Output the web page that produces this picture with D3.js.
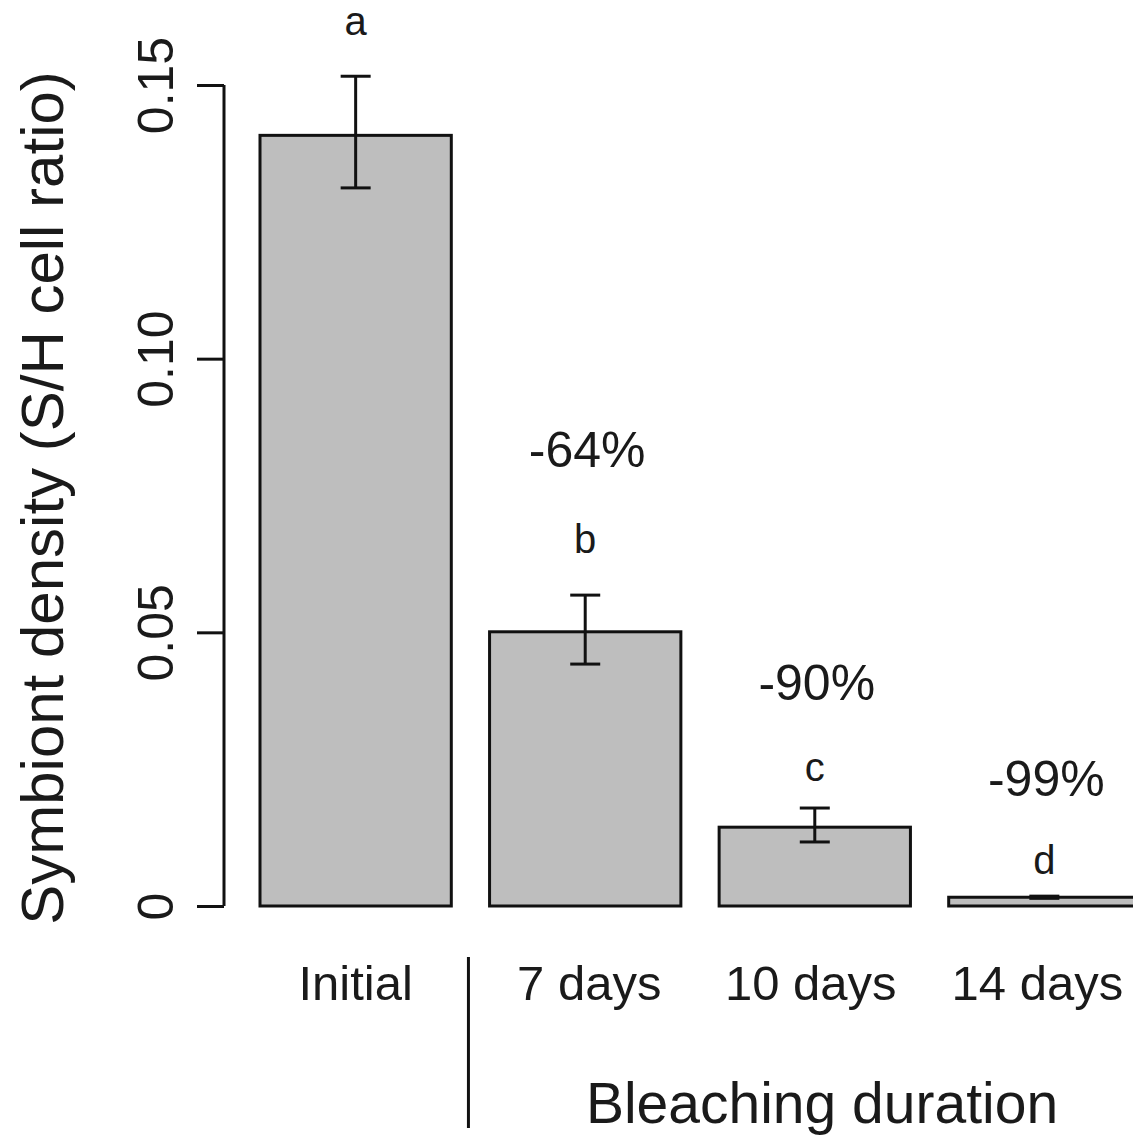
<!DOCTYPE html>
<html>
<head>
<meta charset="utf-8">
<script src="https://cdn.jsdelivr.net/npm/d3@7"></script>
<style>
    body { margin: 0; background: #fff; }
    svg text { font-family: "Liberation Sans", Arial, Helvetica, sans-serif; fill: #1a1a1a; }
</style>
</head>
<body>
<script>
// Data
const categories = ["Initial", "7 days", "10 days", "14 days"];
const means = [0.1408, 0.0501, 0.0144, 0.0016];
const errLow = [0.1312, 0.0442, 0.0117, 0.0014];
const errHigh = [0.1516, 0.0568, 0.0179, 0.0018];
const letters = ["a", "b", "c", "d"];
const letterY = [0.1592, 0.0645, 0.0228, 0.0059];
const reductions = ["", "-64%", "-90%", "-99%"];
const reductionY = [null, 0.0802, 0.0376, 0.0201];
const yTicks = [0, 0.05, 0.10, 0.15];
const yTickLabels = ["0", "0.05", "0.10", "0.15"];

const width = 1133;
const height = 1135;

const svg = d3.select("body").append("svg").attr("width", width).attr("height", height);

// Scales
const yScale = d3.scaleLinear().domain([0, 0.15]).range([906, 85]);
const xScale = d3.scaleBand().domain(categories).range([260, 1140]).paddingInner(1/6).paddingOuter(0);
const bw = xScale.bandwidth();

// Bars
svg.selectAll("rect.bar")
    .data(means)
    .enter()
    .append("rect")
    .attr("class", "bar")
    .attr("x", (d, i) => xScale(categories[i]))
    .attr("y", (d) => yScale(d))
    .attr("width", bw)
    .attr("height", (d) => yScale(0) - yScale(d))
    .attr("fill", "#bebebe")
    .attr("stroke", "#111")
    .attr("stroke-width", 3);

// Error bars
const cx = (i) => xScale(categories[i]) + bw / 2;
const err = svg.append("g").attr("stroke", "#111").attr("stroke-width", 3);
categories.forEach((c, i) => {
    err.append("line").attr("x1", cx(i)).attr("x2", cx(i)).attr("y1", yScale(errLow[i])).attr("y2", yScale(errHigh[i]));
    err.append("line").attr("x1", cx(i) - 15).attr("x2", cx(i) + 15).attr("y1", yScale(errLow[i])).attr("y2", yScale(errLow[i]));
    err.append("line").attr("x1", cx(i) - 15).attr("x2", cx(i) + 15).attr("y1", yScale(errHigh[i])).attr("y2", yScale(errHigh[i]));
});

// Significance letters and reductions
svg.selectAll("text.letter")
    .data(letters)
    .enter()
    .append("text")
    .attr("class", "letter")
    .attr("x", (d, i) => cx(i))
    .attr("y", (d, i) => yScale(letterY[i]))
    .attr("text-anchor", "middle")
    .attr("font-size", 40)
    .text((d) => d);

svg.selectAll("text.pct")
    .data(reductions.filter((d) => d !== ""))
    .enter()
    .append("text")
    .attr("class", "pct")
    .attr("x", (d, i) => cx(i + 1) + 2)
    .attr("y", (d, i) => yScale(reductionY[i + 1]))
    .attr("text-anchor", "middle")
    .attr("font-size", 50)
    .text((d) => d);

// Y axis
const yAxis = d3.axisLeft(yScale).tickValues(yTicks).tickSize(27).tickFormat((d, i) => yTickLabels[i]);
const gy = svg.append("g").attr("transform", "translate(224,0)").call(yAxis);
gy.select(".domain").attr("d", "M0," + yScale(0) + "V" + yScale(0.15)).attr("stroke", "#111").attr("stroke-width", 3);
gy.selectAll(".tick line").attr("stroke", "#111").attr("stroke-width", 3);
gy.selectAll(".tick text")
    .attr("x", null).attr("dy", null).attr("y", null)
    .attr("text-anchor", "middle")
    .attr("transform", "translate(-51,0) rotate(-90)")
    .attr("font-size", 50)
    .attr("font-family", null)
    .style("fill", "#1a1a1a");

// X category labels
svg.selectAll("text.cat")
    .data(categories)
    .enter()
    .append("text")
    .attr("class", "cat")
    .attr("x", (d, i) => xScale(d) + bw / 2 - [0, -4, 4, 7][i])
    .attr("y", 1000)
    .attr("text-anchor", "middle")
    .attr("font-size", 49)
    .text((d) => d);

// Separator between initial and bleaching treatments
const sepX = (xScale("Initial") + bw + xScale("7 days")) / 2 - 2;
svg.append("line")
    .attr("x1", sepX).attr("x2", sepX)
    .attr("y1", 957).attr("y2", 1128)
    .attr("stroke", "#111").attr("stroke-width", 3);

// Axis titles
svg.append("text")
    .attr("x", 822)
    .attr("y", 1123)
    .attr("text-anchor", "middle")
    .attr("font-size", 57)
    .text("Bleaching duration");

svg.append("text")
    .attr("transform", "translate(63,498) rotate(-90)")
    .attr("text-anchor", "middle")
    .attr("font-size", 60)
    .text("Symbiont density (S/H cell ratio)");
</script>
</body>
</html>
